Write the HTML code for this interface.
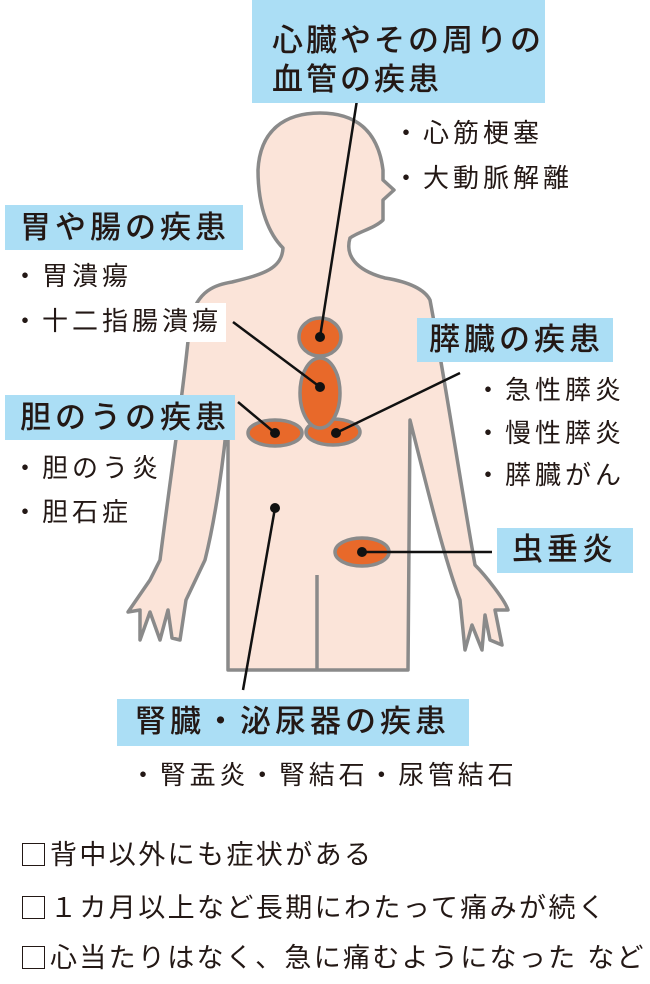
<!DOCTYPE html>
<html><head><meta charset="utf-8"><style>
body{margin:0;width:650px;height:984px;background:#fff;position:relative;overflow:hidden;font-family:"Liberation Sans","Noto Sans CJK JP",sans-serif;color:#231815}
.a{position:absolute;white-space:nowrap}
.box{position:absolute;background:#abdef5}
.h{font-size:31px;font-weight:500;line-height:34px;letter-spacing:4px}
.l{font-size:26px;line-height:30px;letter-spacing:4px}
.c{font-size:27px;line-height:30px;letter-spacing:2.4px}
.cb{display:inline-block;width:21px;height:21px;border:1.5px solid #231815;margin:0 5px 0 2px;vertical-align:-2px}
</style></head><body>
<svg class="a" style="left:0;top:0" width="650" height="984">
<path d="M228,670 L228,410 C224,460 215,520 205,560 L186,600 L180,640 L172,638 L168,610 L160,640 L150,612 L140,640 L140,610 L128,612 L150,580 L160,560 C170,480 185,380 190,320 C198,290 215,285 232,282 C265,274 282,268 283,248 C270,235 258,210 258,170 C260,130 285,113 320,113 C355,113 378,130 383,170 L383,180 L394,190 L383,200 L383,220 C375,228 358,232 350,238 C345,255 355,270 385,278 C410,282 425,290 430,300 C445,380 460,480 475,565 C485,575 505,600 508,610 L495,610 L502,645 L490,640 L485,615 L482,650 L472,625 L465,650 L460,600 C445,560 430,500 410,420 L408,670 Z" fill="#fbe4d9" stroke="#8a8a8a" stroke-width="3.5" stroke-linejoin="round"/>
<path d="M317,670 L317,575" stroke="#8a8a8a" stroke-width="3.5"/>
<g fill="#e8692a" stroke="#8a8a8a" stroke-width="3.5">
<ellipse cx="320" cy="337" rx="21" ry="19"/>
<ellipse cx="333" cy="432" rx="27" ry="13"/>
<ellipse cx="320" cy="393" rx="20" ry="35"/>
<ellipse cx="275" cy="433" rx="27" ry="13"/>
<ellipse cx="362" cy="552" rx="27" ry="14"/>
</g>
<g stroke="#111" stroke-width="2.5">
<line x1="357" y1="100" x2="320" y2="337"/>
<line x1="233" y1="322" x2="320" y2="387"/>
<line x1="238" y1="402" x2="275" y2="433"/>
<line x1="460" y1="373" x2="336" y2="433"/>
<line x1="275" y1="508" x2="243" y2="690"/>
<line x1="362" y1="552" x2="492" y2="552"/>
</g>
<g fill="#111">
<circle cx="320" cy="337" r="5"/><circle cx="320" cy="387" r="5"/><circle cx="275" cy="433" r="5"/><circle cx="336" cy="433" r="5"/><circle cx="275" cy="508" r="5"/><circle cx="362" cy="552" r="5"/>
</g>
</svg>
<div class="box" style="left:252px;top:0;width:293px;height:103px"></div>
<div class="a h" style="left:272px;top:21px;line-height:39px;letter-spacing:3px">心臓やその周りの<br>血管の疾患</div>
<div class="a l" style="left:393px;top:118px">・心筋梗塞</div>
<div class="a l" style="left:393px;top:163px">・大動脈解離</div>
<div class="box" style="left:5px;top:205px;width:238px;height:45px"></div>
<div class="a h" style="left:20px;top:211px">胃や腸の疾患</div>
<div class="a l" style="left:12px;top:261px">・胃潰瘍</div>
<div class="a l" style="left:12px;top:303px;background:#fff;padding:3px 4px 6px 0">・十二指腸潰瘍</div>
<div class="box" style="left:5px;top:395px;width:230px;height:45px"></div>
<div class="a h" style="left:20px;top:401px">胆のうの疾患</div>
<div class="a l" style="left:12px;top:453px">・胆のう炎</div>
<div class="a l" style="left:12px;top:497px">・胆石症</div>
<div class="box" style="left:417px;top:318px;width:196px;height:44px"></div>
<div class="a h" style="left:429px;top:323px">膵臓の疾患</div>
<div class="a l" style="left:475px;top:375px">・急性膵炎</div>
<div class="a l" style="left:475px;top:418px">・慢性膵炎</div>
<div class="a l" style="left:475px;top:460px">・膵臓がん</div>
<div class="box" style="left:497px;top:528px;width:136px;height:45px"></div>
<div class="a h" style="left:512px;top:533px">虫垂炎</div>
<div class="box" style="left:117px;top:699px;width:352px;height:47px"></div>
<div class="a h" style="left:135px;top:705px">腎臓・泌尿器の疾患</div>
<div class="a l" style="left:130px;top:760px;letter-spacing:3.8px">・腎盂炎・腎結石・尿管結石</div>
<div class="a c" style="left:20px;top:840px"><span class="cb"></span>背中以外にも症状がある</div>
<div class="a c" style="left:20px;top:893px"><span class="cb"></span>１カ月以上など長期にわたって痛みが続く</div>
<div class="a c" style="left:20px;top:943px;letter-spacing:2.3px"><span class="cb"></span>心当たりはなく、急に痛むようになった など</div>
</body></html>
